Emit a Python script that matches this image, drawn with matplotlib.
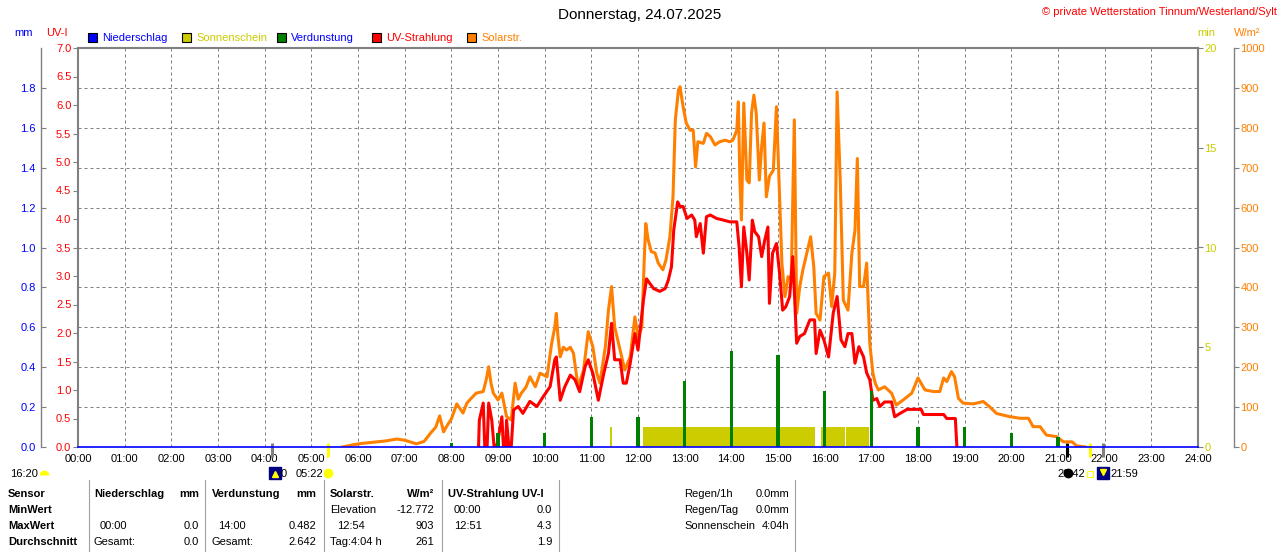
import matplotlib
matplotlib.use("Agg")
import matplotlib.pyplot as plt
from matplotlib.patches import Rectangle
from matplotlib.lines import Line2D
from matplotlib.ticker import MultipleLocator, FixedLocator

plt.rcParams['font.family'] = ['Liberation Sans', 'DejaVu Sans']

# --- daten ---
solar_time = ['05:40', '05:45', '05:55', '06:05', '06:20', '06:35', '06:50', '07:00', '07:15', '07:25',
              '07:33', '07:40', '07:45', '07:50', '07:55', '08:00', '08:07', '08:15', '08:20', '08:26',
              '08:32', '08:41', '08:45', '08:48', '08:51', '08:54', '09:00', '09:05', '09:11', '09:17',
              '09:22', '09:26', '09:30', '09:36', '09:41', '09:48', '09:54', '10:03', '10:09', '10:13',
              '10:15', '10:17', '10:20', '10:24', '10:28', '10:33', '10:37', '10:43', '10:50', '10:56',
              '11:02', '11:07', '11:11', '11:18', '11:22', '11:26', '11:30', '11:37', '11:43', '11:50',
              '11:56', '12:00', '12:05', '12:08', '12:10', '12:13', '12:17', '12:22', '12:26', '12:32',
              '12:36', '12:41', '12:45', '12:48', '12:52', '12:54', '12:58', '13:02', '13:07', '13:11',
              '13:14', '13:17', '13:24', '13:28', '13:33', '13:39', '13:45', '13:52', '13:58', '14:02',
              '14:07', '14:09', '14:11', '14:13', '14:16', '14:20', '14:23', '14:26', '14:29', '14:32',
              '14:36', '14:39', '14:42', '14:45', '14:49', '14:54', '14:58', '15:01', '15:05', '15:09',
              '15:13', '15:17', '15:21', '15:24', '15:28', '15:32', '15:37', '15:42', '15:46', '15:49',
              '15:54', '15:59', '16:05', '16:09', '16:13', '16:16', '16:20', '16:24', '16:30', '16:35',
              '16:39', '16:42', '16:45', '16:50', '16:54', '16:58', '17:02', '17:05', '17:09', '17:17',
              '17:26', '17:32', '17:41', '17:52', '18:00', '18:09', '18:20', '18:28', '18:33', '18:37',
              '18:43', '18:47', '18:52', '18:58', '19:11', '19:24', '19:32', '19:41', '19:58', '20:11',
              '20:22', '20:28', '20:37', '20:45', '20:58', '21:07', '21:18', '21:24', '21:35']
solar_wm2 = [0, 2, 6, 9, 12, 15, 20, 17, 8, 14,
             34, 50, 78, 38, 55, 70, 108, 85, 110, 123,
             135, 139, 170, 201, 160, 135, 118, 135, 76, 68,
             160, 120, 135, 150, 176, 151, 185, 176, 260, 300,
             335, 280, 226, 250, 243, 250, 235, 151, 193, 289,
             251, 185, 160, 251, 343, 402, 301, 243, 193, 226,
             326, 276, 301, 469, 560, 520, 490, 486, 461, 444,
             469, 527, 627, 820, 895, 903, 853, 812, 794, 794,
             702, 765, 761, 786, 778, 757, 765, 769, 765, 769,
             794, 865, 669, 569, 862, 669, 662, 837, 882, 837,
             669, 753, 812, 627, 678, 694, 853, 686, 461, 377,
             427, 419, 820, 335, 402, 444, 486, 527, 452, 335,
             318, 427, 436, 352, 436, 890, 669, 368, 343, 486,
             544, 723, 402, 402, 461, 260, 185, 160, 143, 151,
             135, 105, 118, 135, 173, 143, 139, 139, 173, 164,
             189, 176, 122, 110, 108, 114, 101, 84, 76, 72,
             72, 51, 51, 30, 26, 13, 13, 3, 0]

uv_time = ['08:35', '08:36', '08:41', '08:43', '08:46', '08:48', '08:52', '08:55', '08:58', '09:00',
           '09:05', '09:07', '09:10', '09:11', '09:14', '09:17', '09:20', '09:26', '09:32', '09:41',
           '09:50', '09:58', '10:07', '10:13', '10:15', '10:20', '10:26', '10:33', '10:39', '10:45',
           '10:52', '10:56', '11:02', '11:09', '11:16', '11:22', '11:26', '11:30', '11:37', '11:41',
           '11:45', '11:50', '11:56', '12:00', '12:07', '12:11', '12:20', '12:28', '12:35', '12:39',
           '12:43', '12:46', '12:51', '12:54', '12:58', '13:03', '13:09', '13:13', '13:15', '13:20',
           '13:24', '13:28', '13:33', '13:41', '13:50', '13:58', '14:07', '14:10', '14:13', '14:16',
           '14:20', '14:23', '14:27', '14:30', '14:35', '14:39', '14:43', '14:47', '14:49', '14:53',
           '14:58', '15:02', '15:06', '15:10', '15:15', '15:19', '15:24', '15:28', '15:34', '15:41',
           '15:47', '15:49', '15:54', '15:59', '16:05', '16:11', '16:16', '16:21', '16:26', '16:30',
           '16:35', '16:39', '16:44', '16:50', '16:54', '16:58', '17:02', '17:07', '17:11', '17:17',
           '17:26', '17:30', '17:37', '17:46', '18:04', '18:07', '18:33', '18:37', '18:48', '18:50']
uv_index = [0, 0.47, 0.77, 0, 0, 0.77, 0.47, 0, 0, 0.12,
            0.53, 0, 0, 0.47, 0, 0, 0.65, 0.71, 0.59, 0.80,
            0.71, 0.88, 1.06, 1.53, 1.58, 0.82, 1.06, 1.26, 1.18, 0.97,
            1.41, 1.53, 1.29, 0.82, 1.29, 1.64, 2.17, 1.53, 1.53, 1.12,
            1.12, 1.47, 1.99, 1.70, 2.58, 2.95, 2.78, 2.73, 2.78, 2.93,
            3.16, 3.81, 4.30, 4.22, 4.22, 4.01, 4.07, 3.98, 3.69, 3.92,
            3.40, 4.04, 4.07, 4.01, 3.98, 3.95, 3.95, 3.51, 2.81, 3.86,
            3.40, 2.93, 3.98, 3.78, 3.69, 3.34, 3.63, 3.86, 2.52, 3.40,
            3.57, 3.05, 2.40, 2.46, 2.64, 3.34, 1.82, 1.94, 1.99, 2.23,
            2.23, 1.64, 2.05, 1.88, 1.58, 2.35, 2.64, 1.88, 1.76, 1.99,
            1.99, 1.47, 1.76, 1.58, 1.30, 1.18, 0.82, 0.85, 0.71, 0.79,
            0.79, 0.53, 0.59, 0.66, 0.66, 0.57, 0.57, 0.50, 0.50, 0]

evap_time = ['08:00', '09:00', '10:00', '11:00', '12:00', '13:00', '14:00',
             '15:00', '16:00', '17:00', '18:00', '19:00', '20:00', '21:00']
evap_mm = [0.02, 0.07, 0.07, 0.15, 0.15, 0.33, 0.482, 0.46, 0.28, 0.28, 0.10, 0.10, 0.07, 0.05]

sun_start = ['11:24', '12:07', '15:55', '16:28']
sun_end = ['11:27', '15:48', '16:26', '16:57']
sun_min = [1, 1, 1, 1]

precip_time = ['00:00', '24:00']
precip_mm = [0.0, 0.0]

event_time = ['04:10', '05:22', '21:11', '21:41', '21:58']
event_color = ['#808080', '#FFFF00', '#000000', '#FFFF00', '#808080']

hour_labels = ['%02d:00' % h for h in range(25)]

BLUE = '#0000FF'
YEL = '#CCCC00'
GREEN = '#008000'
RED = '#FF0000'
ORANGE = '#FF8000'
GREY = '#808080'


def t2h(s):
    h, m = s.split(':')
    return int(h) + int(m) / 60.0


W, H = 1280, 552


def fx(x):
    return x / W


def fy(y):
    return 1 - y / H


def icon(x, y, **kw):
    fig.add_artist(Line2D([fx(x)], [fy(y)], transform=fig.transFigure, ls='none', **kw))


fig = plt.figure(figsize=(W / 100, H / 100), dpi=100)
rect = [fx(78), fy(447), 1120 / W, 399 / H]

# grund-achse: gitter + zeitachse
ax0 = fig.add_axes(rect)
ax0.set_xlim(0, 24)
ax0.set_ylim(0, 1000)
ax0.set_xticks(range(25))
ax0.set_xticklabels(hour_labels)
ax0.yaxis.set_major_locator(MultipleLocator(100))
ax0.tick_params(axis='x', length=0, pad=5, labelsize=8)
ax0.tick_params(axis='y', length=0, labelleft=False)
ax0.grid(True, color=GREY, linestyle=(0, (3, 3)), lw=0.72)
for s in ['top', 'left', 'right']:
    ax0.spines[s].set_color(GREY)
    ax0.spines[s].set_linewidth(1.5)
ax0.spines['bottom'].set_visible(False)
ax0.vlines([t2h(t) for t in event_time], -0.025, 0.01, colors=event_color, lw=2.2,
           transform=ax0.get_xaxis_transform(), clip_on=False)

# sonnenschein (min)
ax_min = ax0.twinx()
ax_min.set_ylim(0, 20)
ax_min.yaxis.set_major_locator(FixedLocator([0, 5, 10, 15, 20]))
ax_min.tick_params(axis='y', direction='out', length=3.6, color=GREY, labelcolor=YEL,
                   labelsize=8, pad=1)
for s in ax_min.spines.values():
    s.set_visible(False)
ax_min.bar([t2h(t) for t in sun_start], sun_min,
           width=[t2h(e) - t2h(s) for s, e in zip(sun_start, sun_end)],
           align='edge', color=YEL, lw=0)

# solarstrahlung
ax_sol = ax0.twinx()
ax_sol.set_ylim(0, 1000)
ax_sol.yaxis.set_major_locator(MultipleLocator(100))
for s in ax_sol.spines.values():
    s.set_visible(False)
ax_sol.spines['right'].set_visible(True)
ax_sol.spines['right'].set_position(('outward', 26))
ax_sol.spines['right'].set_color(GREY)
ax_sol.spines['right'].set_linewidth(1)
ax_sol.tick_params(axis='y', direction='out', length=3.6, color=GREY, labelcolor=ORANGE,
                   labelsize=8, pad=1)
ax_sol.plot([t2h(t) for t in solar_time], solar_wm2, color=ORANGE, lw=2.2)

# uv
ax_uv = ax0.twinx()
ax_uv.set_ylim(0, 7)
ax_uv.yaxis.tick_left()
ax_uv.yaxis.set_major_locator(MultipleLocator(0.5))
ax_uv.yaxis.set_major_formatter('{x:.1f}')
for s in ax_uv.spines.values():
    s.set_visible(False)
ax_uv.tick_params(axis='y', direction='out', length=3.6, color=GREY, labelcolor=RED,
                  labelsize=8, pad=1.2)
ax_uv.plot([t2h(t) for t in uv_time], uv_index, color=RED, lw=2.2)

# niederschlag / verdunstung (mm)
ax_mm = ax0.twinx()
ax_mm.set_ylim(0, 2.0)
ax_mm.yaxis.tick_left()
ax_mm.yaxis.set_major_locator(FixedLocator([0, 0.2, 0.4, 0.6, 0.8, 1.0, 1.2, 1.4, 1.6, 1.8]))
ax_mm.yaxis.set_major_formatter('{x:.1f}')
for s in ax_mm.spines.values():
    s.set_visible(False)
ax_mm.spines['left'].set_visible(True)
ax_mm.spines['left'].set_position(('outward', 27))
ax_mm.spines['left'].set_color(GREY)
ax_mm.spines['left'].set_linewidth(1)
ax_mm.tick_params(axis='y', direction='in', length=3.6, color=GREY, labelcolor=BLUE,
                  labelsize=8, pad=3.5)
ax_mm.bar([t2h(t) for t in evap_time], evap_mm, width=0.075, color=GREEN, lw=0)
ax_mm.plot([t2h(t) for t in precip_time], precip_mm, color=BLUE, lw=1.2, clip_on=False)

ax0.set_zorder(0)
ax_min.set_zorder(1)
ax_sol.set_zorder(2)
ax_uv.set_zorder(3)
ax_mm.set_zorder(4)

# titel und beschriftung oben
fig.text(fx(640), fy(15), 'Donnerstag, 24.07.2025', ha='center', va='center', fontsize=11)
fig.text(fx(1277), fy(12), '\u00a9 private Wetterstation Tinnum/Westerland/Sylt', ha='right',
         va='center', fontsize=8, color=RED)
fig.text(fx(14), fy(33), 'mm', va='center', fontsize=8, color=BLUE)
fig.text(fx(46), fy(33), 'UV-I', va='center', fontsize=8, color=RED)
fig.text(fx(1197), fy(33), 'min', va='center', fontsize=8, color=YEL)
fig.text(fx(1234), fy(33), 'W/m\u00b2', va='center', fontsize=8, color=ORANGE)

legend = [(88, BLUE, 'Niederschlag', BLUE), (182, YEL, 'Sonnenschein', YEL),
          (277, GREEN, 'Verdunstung', BLUE), (372, RED, 'UV-Strahlung', RED),
          (467, ORANGE, 'Solarstr.', ORANGE)]
for x, c, lab, tc in legend:
    fig.add_artist(Rectangle((fx(x), fy(42)), 9 / W, 9 / H, transform=fig.transFigure,
                             facecolor=c, edgecolor='black', lw=0.8))
    fig.text(fx(x + 14), fy(38), lab, va='center', fontsize=8, color=tc)

# sonnen/mond-zeiten unter der achse
fig.text(fx(10), fy(474), '16:20', va='center', fontsize=8)
icon(44, 475, marker='o', ms=7, fillstyle='top', markerfacecolor='#FFFF00',
     markerfacecoloralt='none', markeredgecolor='none')
icon(275, 473, marker='s', ms=8, color='#000080')
icon(275, 474, marker='^', ms=4, color='#FFFF00')
fig.text(fx(281), fy(474), '0', va='center', fontsize=8)
fig.text(fx(296), fy(474), '05:22', va='center', fontsize=8)
icon(328, 473, marker='o', ms=6, color='#FFFF00')
fig.text(fx(1057), fy(474), '20:42', va='center', fontsize=8)
icon(1068, 473, marker='o', ms=6, color='black')
icon(1090, 474, marker='s', ms=4, markerfacecolor='none', markeredgecolor='#FFFF00', mew=0.8)
icon(1103, 473, marker='s', ms=8, color='#000080')
icon(1103, 472, marker='v', ms=4, color='#FFFF00')
fig.text(fx(1110), fy(474), '21:59', va='center', fontsize=8)

# tabelle unten
for x in [89, 205, 324, 442, 559, 795]:
    fig.add_artist(Line2D([fx(x), fx(x)], [fy(480), fy(552)], transform=fig.transFigure,
                          color='#A0A0A0', lw=0.8))

rows = [494, 510, 526, 542]
for y, lab in zip(rows, ['Sensor', 'MinWert', 'MaxWert', 'Durchschnitt']):
    fig.text(fx(8), fy(y), lab, va='center', fontsize=8, fontweight='bold')

left_cells = [
    (94, 494, 'Niederschlag', True), (212, 494, 'Verdunstung', True),
    (330, 494, 'Solarstr.', True), (448, 494, 'UV-Strahlung UV-I', True),
    (100, 526, '00:00', False), (94, 542, 'Gesamt:', False),
    (218, 526, '14:00', False), (212, 542, 'Gesamt:', False),
    (330, 510, 'Elevation', False), (337, 526, '12:54', False), (330, 542, 'Tag:4:04 h', False),
    (454, 510, '00:00', False), (454, 526, '12:51', False),
    (684, 494, 'Regen/1h', False), (684, 510, 'Regen/Tag', False), (684, 526, 'Sonnenschein', False),
]
right_cells = [
    (199, 494, 'mm', True), (199, 526, '0.0', False), (199, 542, '0.0', False),
    (316, 494, 'mm', True), (316, 526, '0.482', False), (316, 542, '2.642', False),
    (434, 494, 'W/m\u00b2', True), (434, 510, '-12.772', False), (434, 526, '903', False),
    (434, 542, '261', False),
    (552, 510, '0.0', False), (552, 526, '4.3', False), (552, 542, '1.9', False),
    (789, 494, '0.0mm', False), (789, 510, '0.0mm', False), (789, 526, '4:04h', False),
]
for x, y, s, b in left_cells:
    fig.text(fx(x), fy(y), s, va='center', fontsize=8, fontweight='bold' if b else 'normal')
for x, y, s, b in right_cells:
    fig.text(fx(x), fy(y), s, va='center', ha='right', fontsize=8,
             fontweight='bold' if b else 'normal')

fig.savefig('out.png', dpi=100, facecolor='white')
